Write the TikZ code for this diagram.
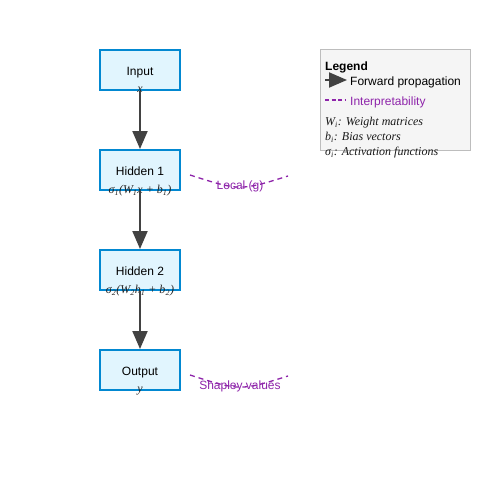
\documentclass[tikz,border=0pt]{standalone}
\usepackage{fontspec}
\setmainfont{Liberation Serif}
\setsansfont{Liberation Sans}
\usetikzlibrary{arrows.meta}
\definecolor{boxfill}{HTML}{E1F5FE}
\definecolor{boxdraw}{HTML}{0288D1}
\definecolor{arr}{HTML}{424242}
\definecolor{interp}{HTML}{8E24AA}
\definecolor{legfill}{HTML}{F5F5F5}
\definecolor{legdraw}{HTML}{BDBDBD}
\newcommand{\sbx}[1]{\textsubscript{#1}}
\tikzset{
  layer/.style={draw=boxdraw, fill=boxfill, line width=2pt, minimum width=80pt, minimum height=40pt, inner sep=0pt, text height=11pt, text depth=0.5pt, font=\sffamily\fontsize{12}{14}\selectfont},
  fwd/.style={draw=arr, line width=2pt, -{Triangle[length=18pt,width=15pt]}},
  interpline/.style={draw=interp, line width=1.3pt, dash pattern=on 5pt off 4pt},
  formula/.style={font=\itshape\fontsize{12}{14}\selectfont, text=black!85, inner sep=0pt},
  interplabel/.style={font=\sffamily\fontsize{12}{14}\selectfont, text=interp, inner sep=0pt},
  legtext/.style={font=\sffamily\fontsize{12}{14}\selectfont, anchor=west, inner sep=0pt},
  legserif/.style={font=\itshape\fontsize{12}{14}\selectfont, anchor=west, inner sep=0pt, text=black!90}
}
\begin{document}
\begin{tikzpicture}[x=1pt,y=-1pt]
\useasboundingbox (0,0) rectangle (500,500);
\fill[white] (0,0) rectangle (500,500);
% layers
\node[layer] (in) at (140,70) {Input};
\node[layer] (h1) at (140,170) {Hidden 1};
\node[layer] (h2) at (140,270) {Hidden 2};
\node[layer] (out) at (140,370) {Output};
% formulas
\node[formula] (fx) at (140,90) {x};
\node[formula] (f1) at (140,191) {σ\sbx{1}(W\sbx{1}x + b\sbx{1})};
\node[formula] (f2) at (140,291) {σ\sbx{2}(W\sbx{2}h\sbx{1} + b\sbx{2})};
\node[formula] (fy) at (140,391) {y};
% arrows
\draw[fwd] (in.south) -- (h1.north);
\draw[fwd] (h1.south) -- (h2.north);
\draw[fwd] (h2.south) -- (out.north);
% interpretability
\coordinate (l1a) at (190,175);
\coordinate (l1b) at (288,176);
\coordinate (l1c) at (240,191);
\draw[interpline] (l1a) .. controls (l1c) .. (l1b);
\node[interplabel] (loc) at (240,186) {Local (g)};
\coordinate (l2a) at (190,375);
\coordinate (l2b) at (288,376);
\coordinate (l2c) at (240,391);
\draw[interpline] (l2a) .. controls (l2c) .. (l2b);
\node[interplabel] (shap) at (240,386) {Shapley values};
% legend
\node[draw=legdraw, fill=legfill, line width=1pt, minimum width=150pt, minimum height=100pt, inner sep=0pt] (leg) at (395,100) {};
\node[legtext, font=\sffamily\bfseries\fontsize{12}{14}\selectfont] (legt) at (325,67.5) {Legend};
\coordinate (la) at (325,80);
\coordinate (lb) at (347,80);
\draw[fwd] (la) -- (lb);
\node[legtext] (lfwd) at (350,82.5) {Forward propagation};
\coordinate (lc) at (325,100);
\coordinate (ld) at (346,100);
\draw[interpline, dash pattern=on 4pt off 2.5pt] (lc) -- (ld);
\node[legtext, text=interp] (lint) at (350,102.5) {Interpretability};
\node[legserif] (lw) at (325,122.5) {W\sbx{i}: Weight matrices};
\node[legserif] (lbv) at (325,137.5) {b\sbx{i}: Bias vectors};
\node[legserif] (ls) at (325,152.5) {σ\sbx{i}: Activation functions};
\end{tikzpicture}
\end{document}
